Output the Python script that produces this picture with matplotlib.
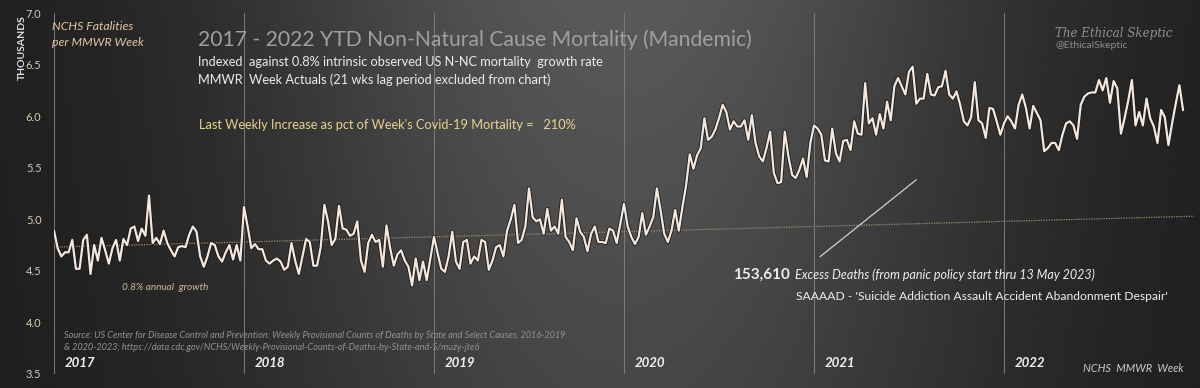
import numpy as np
import matplotlib
matplotlib.use('Agg')
import matplotlib.pyplot as plt
import matplotlib.patheffects as pe

# weekly non-natural cause deaths (thousands), per MMWR year
v2017 = [4.89, 4.72, 4.64, 4.68, 4.68, 4.80, 4.52, 4.52, 4.80, 4.85, 4.47, 4.75, 4.60, 4.82, 4.70, 4.57, 4.72,
         4.80, 4.60, 4.81, 4.75, 4.91, 4.93, 4.79, 4.91, 4.84, 5.23, 4.77, 4.82, 4.76, 4.89, 4.77, 4.70, 4.64,
         4.73, 4.74, 4.73, 4.85, 4.93, 4.88, 4.64, 4.54, 4.64, 4.77, 4.75, 4.64, 4.59, 4.68, 4.75, 4.61, 4.75, 4.60]
v2018 = [5.12, 4.93, 4.72, 4.76, 4.71, 4.71, 4.60, 4.57, 4.60, 4.62, 4.59, 4.51, 4.54, 4.77, 4.60, 4.47, 4.64,
         4.81, 4.78, 4.55, 4.55, 4.73, 5.14, 4.98, 4.75, 4.81, 5.13, 4.91, 4.90, 4.84, 4.86, 4.98, 4.60, 4.49,
         4.77, 4.85, 4.78, 4.80, 4.54, 4.94, 4.72, 4.55, 4.66, 4.70, 4.60, 4.54, 4.36, 4.62, 4.41, 4.59, 4.41, 4.62]
v2019 = [4.83, 4.67, 4.52, 4.49, 4.64, 4.88, 4.59, 4.52, 4.78, 4.80, 4.57, 4.64, 4.60, 4.80, 4.78, 4.51, 4.60,
         4.73, 4.75, 4.64, 4.89, 5.00, 5.14, 4.77, 4.80, 4.93, 5.30, 5.02, 4.98, 5.00, 4.86, 5.10, 4.89, 4.93,
         4.86, 5.19, 4.83, 4.78, 4.70, 5.01, 4.88, 4.83, 4.69, 4.86, 4.93, 4.78, 4.78, 4.77, 4.91, 4.89, 4.77, 4.96]
v2020 = [5.15, 4.93, 4.83, 4.76, 4.83, 5.06, 4.85, 4.93, 5.02, 5.30, 5.09, 4.86, 4.78, 4.89, 5.09, 4.89, 5.12,
         5.33, 5.63, 5.49, 5.62, 5.69, 5.98, 5.77, 5.80, 5.87, 5.98, 6.11, 6.04, 5.87, 5.95, 5.90, 5.90, 5.96,
         5.77, 6.01, 5.74, 5.61, 5.56, 5.69, 5.85, 5.45, 5.35, 5.36, 5.85, 5.61, 5.43, 5.40, 5.48, 5.59, 5.41, 5.74]
v2021 = [5.91, 5.88, 5.82, 5.57, 5.56, 5.88, 5.64, 5.56, 5.76, 5.77, 5.67, 5.95, 5.83, 5.82, 6.32, 5.93, 5.98,
         5.82, 6.02, 5.88, 6.14, 5.96, 6.29, 6.37, 6.29, 6.21, 6.43, 6.48, 6.12, 6.17, 6.17, 6.41, 6.21, 6.20,
         6.28, 6.29, 6.44, 6.21, 6.17, 6.24, 6.11, 5.95, 5.91, 5.99, 6.33, 5.96, 5.93, 5.79, 6.08, 6.07, 5.95, 5.82]
v2022 = [5.93, 6.00, 5.95, 5.88, 6.11, 6.21, 6.08, 5.88, 6.10, 6.03, 5.96, 5.66, 5.69, 5.74, 5.74, 5.67, 5.82,
         5.93, 5.95, 5.91, 5.78, 6.11, 6.19, 6.22, 6.23, 6.23, 6.35, 6.25, 6.37, 6.13, 6.34, 6.27, 5.83, 5.98,
         6.15, 6.35, 5.91, 6.04, 5.91, 6.17, 5.98, 5.90, 5.74, 6.06, 5.99, 5.72, 5.93, 6.12, 6.30, 6.06]

years = [2017, 2018, 2019, 2020, 2021, 2022]
series = [v2017, v2018, v2019, v2020, v2021, v2022]

trend_years = [2017, 2023]
trend_vals = [4.73, 5.03]

yticks = [3.5, 4.0, 4.5, 5.0, 5.5, 6.0, 6.5, 7.0]

xs, ys = [], []
for yr, vals in zip(years, series):
    for i, v in enumerate(vals):
        xs.append(yr + i / 52)
        ys.append(v)

W, H = 1200, 388
fig = plt.figure(figsize=(12, 3.88), dpi=100)
plt.rcParams['font.family'] = ['Lato', 'DejaVu Sans']


def px(x, y):
    return x / W, 1 - y / H


# background gradient
bg = fig.add_axes([0, 0, 1, 1], zorder=-5)
gx, gy = np.meshgrid(np.linspace(0, 1, 400), np.linspace(0, 1, 130))
g = 0.11 + 0.24 * np.exp(-((gx - 0.52) / 0.32) ** 2) * (1 - 0.3 * gy)
bg.imshow(g, cmap='gray', vmin=0, vmax=1, aspect='auto', extent=[0, 1, 1, 0])
bg.axis('off')

ax = fig.add_axes([54 / W, 1 - 374 / H, 1 - 54 / W, (374 - 13) / H])
ax.patch.set_alpha(0)
ax.set_xlim(2017, 2017 + (W - 54) / 190)
ax.set_ylim(3.5, 7.0)
for s in ax.spines.values():
    s.set_visible(False)
ax.set_xticks([])
ax.set_yticks(yticks)
ax.set_yticklabels([f'{t:.1f}' for t in yticks], color='#d8c9b5', fontsize=8)
ax.tick_params(axis='y', length=0, pad=9)

for yr in years:
    ax.axvline(yr, color='#7c7c7c', lw=0.7, zorder=1)
    ax.text(yr + 0.055, 3.55, str(yr), color='#f2f2f2', fontsize=9.5, fontweight='bold',
            fontstyle='italic', ha='left', va='bottom')

ax.plot(trend_years, trend_vals, ls=(0, (1, 1)), color='#a08a72', lw=0.9, zorder=2)
ax.plot(xs, ys, color='#f4e8de', lw=1.6, zorder=3,
        path_effects=[pe.withStroke(linewidth=2.8, foreground='#1a1a1a')])

# pointer line
ax.annotate('', xy=(2021.55, 5.40), xytext=(2021.02, 4.62),
            arrowprops=dict(arrowstyle='-', color='#d0d0d0', lw=0.9))

fig.text(*px(22, 48), 'THOUSANDS', rotation=90, color='#e0e0e0', fontsize=7.5,
         fontweight='bold', ha='center', va='center')
fig.text(*px(52, 27), 'NCHS Fatalities', color='#e3c8a4', fontsize=8.8, fontstyle='italic', va='center')
fig.text(*px(52, 43), 'per MMWR Week', color='#e3c8a4', fontsize=8.8, fontstyle='italic', va='center')

fig.text(*px(198, 40), '2017 - 2022 YTD Non-Natural Cause Mortality (Mandemic)', color='#a0a0a0',
         fontsize=15.2, va='center')
fig.text(*px(198, 62), 'Indexed  against 0.8% intrinsic observed US N-NC mortality  growth rate',
         color='#ececec', fontsize=9.15, va='center')
fig.text(*px(198, 80), 'MMWR  Week Actuals (21 wks lag period excluded from chart)',
         color='#ececec', fontsize=9.15, va='center')
fig.text(*px(199, 125), "Last Weekly Increase as pct of Week's Covid-19 Mortality =   210%",
         color='#e6d48f', fontsize=9.2, va='center')

fig.text(*px(1055, 33), 'The Ethical Skeptic', color='#909090', fontsize=8.6,
         family='DejaVu Serif', fontstyle='italic', va='center')
fig.text(*px(1055, 46), '@EthicalSkeptic', color='#8c8c8c', fontsize=7.5, va='center')

fig.text(*px(733, 275), '153,610', color='#eeeeee', fontsize=11, fontweight='bold', va='center')
fig.text(*px(795, 275), 'Excess Deaths (from panic policy start thru 13 May 2023)', color='#eeeeee',
         fontsize=9, fontstyle='italic', va='center')
fig.text(*px(796, 296), "SAAAAD - 'Suicide Addiction Assault Accident Abandonment Despair'",
         color='#eeeeee', fontsize=8.7, va='center')

fig.text(*px(122, 288), '0.8% annual  growth', color='#cdb89c', fontsize=7.2, fontstyle='italic',
         va='center')
fig.text(*px(64, 335), 'Source: US Center for Disease Control and Prevention: Weekly Provisional Counts of Deaths '
         'by State and Select Causes, 2016-2019', color='#939393', fontsize=6.55, fontstyle='italic',
         va='center')
fig.text(*px(64, 347), '& 2020-2023; https://data.cdc.gov/NCHS/Weekly-Provisional-Counts-of-Deaths-by-State-and-S/'
         'muzy-jte6', color='#939393', fontsize=6.55, fontstyle='italic', va='center')
fig.text(*px(1083, 369), 'NCHS  MMWR  Week', color='#cccccc', fontsize=7.9, fontstyle='italic', va='center')

fig.savefig('out.png', dpi=100)
